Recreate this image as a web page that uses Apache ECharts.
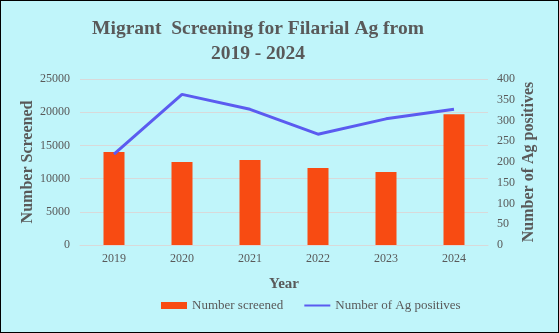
<!DOCTYPE html>
<html><head><meta charset="utf-8">
<script src="https://cdn.jsdelivr.net/npm/echarts@6/dist/echarts.min.js"></script>
<style>html,body{margin:0;padding:0;background:#fff}#c{width:557px;height:331px;border:1px solid #000;background:#C0F5FA}</style>
</head><body><div id="c"></div>
<script>
var years = ['2019','2020','2021','2022','2023','2024'];
var screened = [14000, 12500, 12800, 11600, 11000, 19700];
var positives = [219, 363, 327, 267, 304, 327];
var leftTicks = [0, 5000, 10000, 15000, 20000, 25000];
var rightTicks = [0, 50, 100, 150, 200, 250, 300, 350, 400];

var serif = '"Liberation Serif","DejaVu Serif",serif';
var grey = '#595959';
var chart = echarts.init(document.getElementById('c'));
chart.setOption({
  backgroundColor: '#C0F5FA',
  animation: false,
  title: {
    text: 'Migrant  Screening for Filarial Ag from\n2019 - 2024',
    left: 252, top: 10, textAlign: 'center',
    textStyle: {fontFamily: serif, fontWeight: 'bold', fontSize: 19.5, color: grey, lineHeight: 25}
  },
  grid: {left: 79, right: 70, top: 78, bottom: 87, containLabel: false},
  legend: {
    bottom: 15, left: 155, itemWidth: 26, itemHeight: 7, itemGap: 20,
    textStyle: {fontFamily: serif, fontSize: 13, color: grey},
    data: [{name: 'Number screened', icon: 'rect'}, {name: 'Number of Ag positives', itemStyle: {opacity: 0}}]
  },
  xAxis: {
    type: 'category', data: years,
    name: 'Year', nameLocation: 'middle', nameGap: 32, nameMoveOverlap: false,
    nameTextStyle: {fontFamily: serif, fontWeight: 'bold', fontSize: 15, color: grey},
    axisLine: {lineStyle: {color: '#D9D9D9'}}, axisTick: {show: false},
    axisLabel: {fontFamily: serif, fontSize: 12, color: grey, margin: 8}
  },
  yAxis: [{
    type: 'value', min: leftTicks[0], max: leftTicks[leftTicks.length-1], interval: 5000,
    name: 'Number Screened', nameLocation: 'middle', nameGap: 44, nameMoveOverlap: false,
    nameTextStyle: {fontFamily: serif, fontWeight: 'bold', fontSize: 16, color: grey},
    axisLabel: {fontFamily: serif, fontSize: 12, color: grey, margin: 10, formatter: function(v){return String(v);}},
    splitLine: {lineStyle: {color: '#D9D9D9'}}, axisLine: {show: false}, axisTick: {show: false}
  }, {
    type: 'value', min: rightTicks[0], max: rightTicks[rightTicks.length-1], interval: 50,
    name: 'Number of Ag positives', nameLocation: 'middle', nameGap: 33, nameMoveOverlap: false,
    nameTextStyle: {fontFamily: serif, fontWeight: 'bold', fontSize: 16, color: grey},
    axisLabel: {fontFamily: serif, fontSize: 12, color: grey, margin: 9},
    splitLine: {show: false}, axisLine: {show: false}, axisTick: {show: false}
  }],
  series: [{
    name: 'Number screened', type: 'bar', data: screened, barWidth: 21,
    itemStyle: {color: '#F84B12'}
  }, {
    name: 'Number of Ag positives', type: 'line', yAxisIndex: 1, data: positives,
    symbol: 'none', lineStyle: {color: '#5B5BF0', width: 3}, itemStyle: {color: '#5B5BF0'}
  }]
});
</script></body></html>
